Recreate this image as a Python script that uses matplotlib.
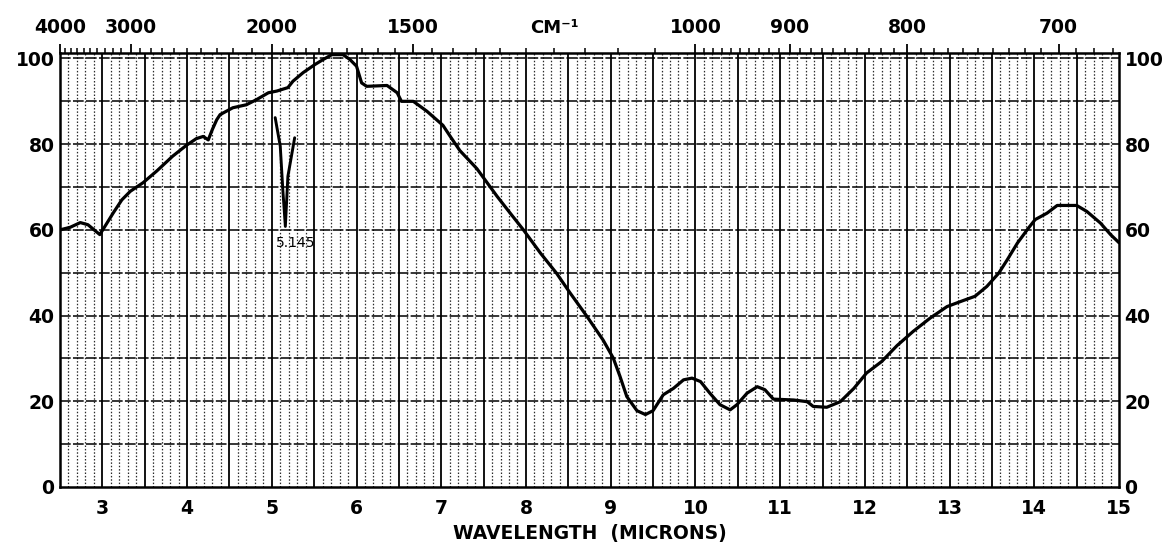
import numpy as np
import matplotlib.pyplot as plt
from matplotlib.transforms import offset_copy

# main trace (wavelength in microns, % transmittance)
wavelength = [2.50, 2.62, 2.74, 2.83, 2.97, 3.03, 3.13, 3.23, 3.33, 3.48,
              3.64, 3.83, 3.99, 4.11, 4.19, 4.25, 4.30, 4.35, 4.39, 4.54,
              4.70, 4.82, 4.96, 5.06, 5.19, 5.25, 5.37, 5.51, 5.61, 5.71,
              5.84, 5.92, 6.00, 6.06, 6.12, 6.36, 6.48, 6.53, 6.67, 6.83,
              7.02, 7.10, 7.22, 7.42, 7.66, 7.81, 7.97, 8.17, 8.36, 8.52, 8.72,
              8.91, 9.03, 9.11, 9.19, 9.31, 9.41, 9.50, 9.62, 9.74, 9.86,
              9.96, 10.06, 10.17, 10.29, 10.41, 10.49, 10.61, 10.73, 10.82, 10.92,
              11.16, 11.32, 11.39, 11.55, 11.71, 11.87, 12.02, 12.20, 12.38, 12.57,
              12.77, 12.97, 13.16, 13.30, 13.44, 13.58, 13.68, 13.80, 13.93, 14.01,
              14.15, 14.27, 14.50, 14.62, 14.78, 14.90, 15.00]
transmittance = [60.0, 60.6, 61.7, 61.2, 58.9, 60.8, 64.0, 67.0, 69.0, 71.0,
                 73.7, 77.2, 79.7, 81.3, 81.8, 81.0, 83.5, 85.7, 86.9, 88.5,
                 89.2, 90.4, 92.0, 92.4, 93.2, 94.7, 96.7, 98.6, 99.8, 100.9,
                 100.9, 99.8, 98.2, 94.3, 93.5, 93.7, 92.0, 90.0, 90.0, 87.7,
                 84.4, 82.0, 78.5, 74.3, 67.8, 64.0, 60.0, 54.6, 49.9, 45.3, 39.8,
                 34.3, 30.1, 25.8, 21.1, 17.8, 16.9, 17.8, 21.5, 23.0, 25.0,
                 25.4, 24.6, 21.9, 19.2, 18.0, 19.2, 21.9, 23.4, 22.7, 20.5,
                 20.3, 19.9, 18.8, 18.6, 19.9, 23.0, 26.6, 29.3, 33.0, 36.3,
                 39.4, 42.1, 43.5, 44.5, 46.8, 49.9, 53.0, 56.9, 60.4, 62.4,
                 63.9, 65.7, 65.7, 64.3, 61.6, 58.9, 57.0]

# the separate sharp band near 5.15 microns
spike_wl = [5.04, 5.10, 5.13, 5.16, 5.19, 5.27]
spike_t = [86.2, 79.5, 69.4, 60.8, 72.5, 81.5]
spike_label = "5.145"

bottom_ticks = [3, 4, 5, 6, 7, 8, 9, 10, 11, 12, 13, 14, 15]
y_ticks = [0, 20, 40, 60, 80, 100]
wn_major = [4000, 3000, 2000, 1500, 1000, 900, 800, 700]
wn_minor = (list(range(3900, 2000, -100)) + list(range(1950, 1000, -50))
            + list(range(990, 660, -10)))

font = dict(family="DejaVu Sans", weight="bold", size=13.5)

fig = plt.figure(figsize=(11.67, 5.54), dpi=100)
ax = fig.add_axes([0.0514, 0.121, 0.9075, 0.7835])
ax.set_xlim(2.5, 15)
ax.set_ylim(0, 101.3)

# chart paper grid
for x in np.arange(2.6, 15, 0.1):
    if abs(x * 2 - round(x * 2)) < 1e-6:
        ax.axvline(x, color="black", lw=1.3, zorder=1)
    else:
        ax.axvline(x, color="#2a2a2a", lw=0.9, ls=(0, (1.2, 1.5)), zorder=1)
for y in range(10, 101, 10):
    ax.axhline(y, color="black", lw=1.1, ls=(0, (7, 1.5)), zorder=1)

ax.plot(wavelength, transmittance, color="black", lw=2.3,
        solid_joinstyle="round", solid_capstyle="round", zorder=3)
ax.plot(spike_wl, spike_t, color="black", lw=2.1,
        solid_joinstyle="round", solid_capstyle="round", zorder=3)
ax.text(5.05, 57, spike_label, fontsize=10, ha="left", va="center", zorder=4)

for s in ax.spines.values():
    s.set_linewidth(1.8)

ax.set_xticks(bottom_ticks)
ax.set_xticklabels([str(t) for t in bottom_ticks], **font)
ax.tick_params(axis="x", length=0, pad=9)
ax.set_yticks(y_ticks)
ax.set_yticklabels([str(t) for t in y_ticks], **font)
ax.tick_params(axis="y", length=0, pad=4, right=True, labelright=True)
for t in ax.yaxis.get_major_ticks():
    t.label2.set_fontsize(13.5)
    t.label2.set_fontweight("bold")
ax.set_xlabel("WAVELENGTH  (MICRONS)", labelpad=4, **font)

# wavenumber scale along the top
top = ax.twiny()
top.set_xlim(ax.get_xlim())
top.set_xticks([1e4 / w for w in wn_major])
top.set_xticklabels([str(w) for w in wn_major], **font)
top.set_xticks([1e4 / w for w in wn_minor], minor=True)
top.tick_params(axis="x", which="major", length=6.5, width=1.3, pad=5, direction="out")
top.tick_params(axis="x", which="minor", length=3.5, width=1.1, direction="out")
for s in top.spines.values():
    s.set_visible(False)
cm_trans = offset_copy(top.get_xaxis_transform(), fig=fig, y=16, units="dots")
top.text(1e4 / 1200, 1.0, "CM⁻¹", transform=cm_trans,
         ha="center", va="bottom", fontsize=13, fontweight="bold")

fig.savefig("out.png", dpi=100)
